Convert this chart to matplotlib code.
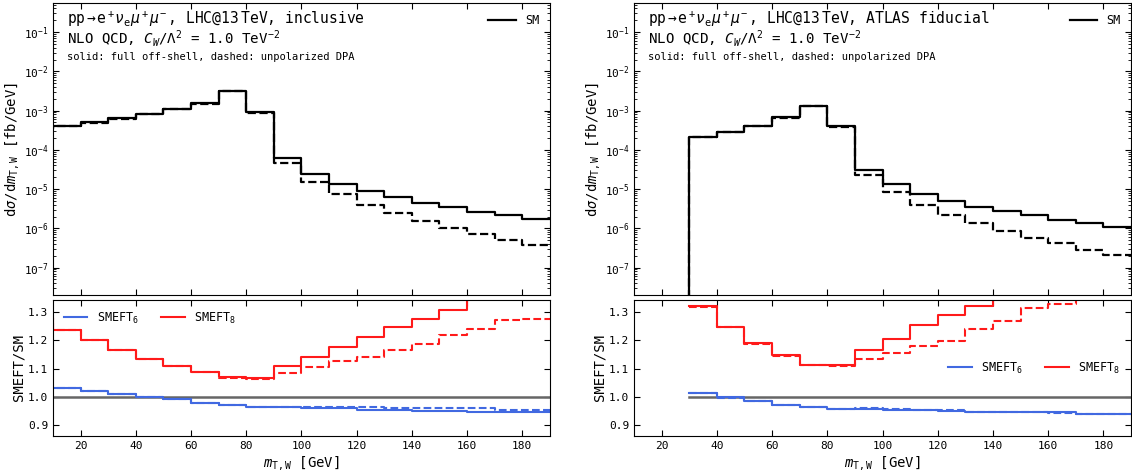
import numpy as np
import matplotlib
matplotlib.use("Agg")
import matplotlib.pyplot as plt
from matplotlib.ticker import LogLocator, NullFormatter, MultipleLocator

plt.rcParams["font.family"] = ["DejaVu Sans Mono"]
plt.rcParams["mathtext.fontset"] = "custom"
plt.rcParams["mathtext.rm"] = "DejaVu Sans Mono"
plt.rcParams["mathtext.it"] = "DejaVu Sans Mono:italic"
plt.rcParams["mathtext.bf"] = "DejaVu Sans Mono:bold"

# bin edges (GeV)
edges_incl = np.arange(0, 200, 10)      # 0..190, 19 bins
edges_fid = np.arange(20, 200, 10)      # 20..190, 17 bins (first bin empty)

# inclusive: SM differential cross section [fb/GeV]
sm_incl_full = [3.5e-4, 4.0e-4, 5.0e-4, 6.3e-4, 8.1e-4, 1.09e-3, 1.53e-3, 3.16e-3, 9.0e-4,
                6.2e-5, 2.45e-5, 1.35e-5, 8.7e-6, 6.2e-6, 4.5e-6, 3.4e-6, 2.6e-6, 2.13e-6, 1.73e-6]
sm_incl_dpa = [3.45e-4, 3.95e-4, 4.95e-4, 6.2e-4, 8.0e-4, 1.07e-3, 1.50e-3, 3.10e-3, 8.6e-4,
               4.6e-5, 1.56e-5, 7.5e-6, 4.0e-6, 2.4e-6, 1.5e-6, 1.02e-6, 7.0e-7, 5.0e-7, 3.7e-7]

# fiducial: SM differential cross section [fb/GeV]
sm_fid_full = [0.0, 2.15e-4, 2.8e-4, 4.1e-4, 6.7e-4, 1.33e-3, 4.1e-4,
               3.1e-5, 1.35e-5, 7.5e-6, 5.0e-6, 3.6e-6, 2.7e-6, 2.13e-6, 1.65e-6, 1.36e-6, 1.1e-6]
sm_fid_dpa = [0.0, 2.12e-4, 2.77e-4, 4.05e-4, 6.6e-4, 1.31e-3, 3.9e-4,
              2.3e-5, 8.3e-6, 4.0e-6, 2.25e-6, 1.34e-6, 8.7e-7, 5.6e-7, 4.3e-7, 2.8e-7, 2.1e-7]

# inclusive ratios SMEFT/SM
d6_incl_full = [1.035, 1.031, 1.020, 1.011, 1.001, 0.992, 0.980, 0.971, 0.966,
                0.964, 0.961, 0.959, 0.954, 0.954, 0.949, 0.949, 0.947, 0.945, 0.945]
d6_incl_dpa = [1.035, 1.030, 1.019, 1.010, 1.000, 0.991, 0.980, 0.970, 0.966,
               0.966, 0.965, 0.966, 0.966, 0.962, 0.960, 0.960, 0.960, 0.953, 0.952]
d8_incl_full = [1.28, 1.236, 1.199, 1.165, 1.134, 1.109, 1.089, 1.069, 1.066,
                1.109, 1.142, 1.175, 1.211, 1.246, 1.276, 1.308, 1.36, 1.40, 1.45]
d8_incl_dpa = [1.28, 1.236, 1.199, 1.164, 1.133, 1.108, 1.088, 1.068, 1.064,
               1.086, 1.105, 1.125, 1.141, 1.167, 1.187, 1.218, 1.240, 1.272, 1.276]

# fiducial ratios SMEFT/SM
d6_fid_full = [np.nan, 1.014, 0.998, 0.986, 0.973, 0.964, 0.958, 0.956, 0.955,
               0.953, 0.951, 0.948, 0.948, 0.946, 0.945, 0.940, 0.940]
d6_fid_dpa = [np.nan, 1.012, 0.997, 0.984, 0.972, 0.963, 0.957, 0.959, 0.957,
              0.954, 0.954, 0.948, 0.947, 0.945, 0.944, 0.938, 0.938]
d8_fid_full = [np.nan, 1.319, 1.246, 1.189, 1.146, 1.114, 1.112, 1.167, 1.205,
               1.252, 1.289, 1.321, 1.36, 1.40, 1.44, 1.48, 1.52]
d8_fid_dpa = [np.nan, 1.318, 1.245, 1.188, 1.145, 1.113, 1.108, 1.134, 1.156,
              1.180, 1.198, 1.239, 1.266, 1.313, 1.327, 1.37, 1.40]

log_ticks = [1e-7, 1e-6, 1e-5, 1e-4, 1e-3, 1e-2, 1e-1]

BLUE = "#4169e1"
RED = "#ff1a1a"
GRAY = "#666666"


def stepline(ax, edges, vals, **kw):
    vals = np.asarray(vals, dtype=float)
    ax.step(edges, np.append(vals, vals[-1]), where="post", **kw)


def style_axis(ax):
    ax.tick_params(which="both", direction="in", top=True, right=True, labelsize=8)
    ax.tick_params(which="major", length=4)
    ax.tick_params(which="minor", length=2)


fig = plt.figure(figsize=(11.32, 4.74), dpi=100)

panels = [
    (0.0468, edges_incl, sm_incl_full, sm_incl_dpa, d6_incl_full, d6_incl_dpa,
     d8_incl_full, d8_incl_dpa, "inclusive", dict(loc="upper left")),
    (0.5601, edges_fid, sm_fid_full, sm_fid_dpa, d6_fid_full, d6_fid_dpa,
     d8_fid_full, d8_fid_dpa, "ATLAS fiducial", dict(loc="center right", bbox_to_anchor=(1.0, 0.5))),
]

for left, edges, smf, smd, d6f, d6d, d8f, d8d, tag, legkw in panels:
    w = 0.439
    ax = fig.add_axes([left, 0.3776, w, 0.616])
    rax = fig.add_axes([left, 0.0802, w, 0.287])

    stepline(ax, edges, smf, color="black", lw=1.6, label="SM")
    stepline(ax, edges, smd, color="black", lw=1.6, ls="--")
    ax.set_yscale("log")
    ax.set_xlim(10, 190)
    ax.set_ylim(2e-8, 0.55)
    ax.set_yticks(log_ticks)
    ax.yaxis.set_minor_locator(LogLocator(base=10, subs=np.arange(2, 10), numticks=20))
    ax.yaxis.set_minor_formatter(NullFormatter())
    ax.xaxis.set_major_locator(MultipleLocator(20))
    ax.tick_params(labelbottom=False)
    style_axis(ax)
    ax.set_ylabel(r"$\mathrm{d}\sigma/\mathrm{d}m_\mathrm{T,W}$ [fb/GeV]", fontsize=10, labelpad=2)
    ax.legend(loc="upper right", frameon=False, fontsize=8.5, handlelength=2.3)

    ax.text(0.028, 0.945, r"$\mathrm{pp}\to\mathrm{e}^+\nu_\mathrm{e}\mu^+\mu^-$, LHC@13$\;$TeV, " + tag,
            transform=ax.transAxes, fontsize=10.5, va="center")
    ax.text(0.028, 0.877, r"NLO QCD, $C_W/\Lambda^2$ = 1.0 TeV$^{-2}$",
            transform=ax.transAxes, fontsize=10.2, va="center")
    ax.text(0.028, 0.815, "solid: full off-shell, dashed: unpolarized DPA",
            transform=ax.transAxes, fontsize=7.5, va="center")

    sm_ratio = np.where(np.asarray(smf) > 0, 1.0, np.nan)
    stepline(rax, edges, sm_ratio, color=GRAY, lw=1.8)
    stepline(rax, edges, d6f, color=BLUE, lw=1.5, label=r"SMEFT$_6$")
    stepline(rax, edges, d8f, color=RED, lw=1.5, label=r"SMEFT$_8$")
    stepline(rax, edges, d6d, color=BLUE, lw=1.5, ls="--")
    stepline(rax, edges, d8d, color=RED, lw=1.5, ls="--")
    rax.set_xlim(10, 190)
    rax.set_ylim(0.862, 1.342)
    rax.xaxis.set_major_locator(MultipleLocator(20))
    rax.yaxis.set_major_locator(MultipleLocator(0.1))
    rax.yaxis.set_major_formatter(plt.FormatStrFormatter("%.1f"))
    style_axis(rax)
    rax.set_xlabel(r"$m_\mathrm{T,W}$ [GeV]", fontsize=10, labelpad=2)
    rax.set_ylabel("SMEFT/SM", fontsize=10, labelpad=2)
    rax.legend(ncol=2, frameon=False, fontsize=8.5, handlelength=2.0,
               columnspacing=1.9, **legkw)

fig.savefig("out.png", dpi=100)
